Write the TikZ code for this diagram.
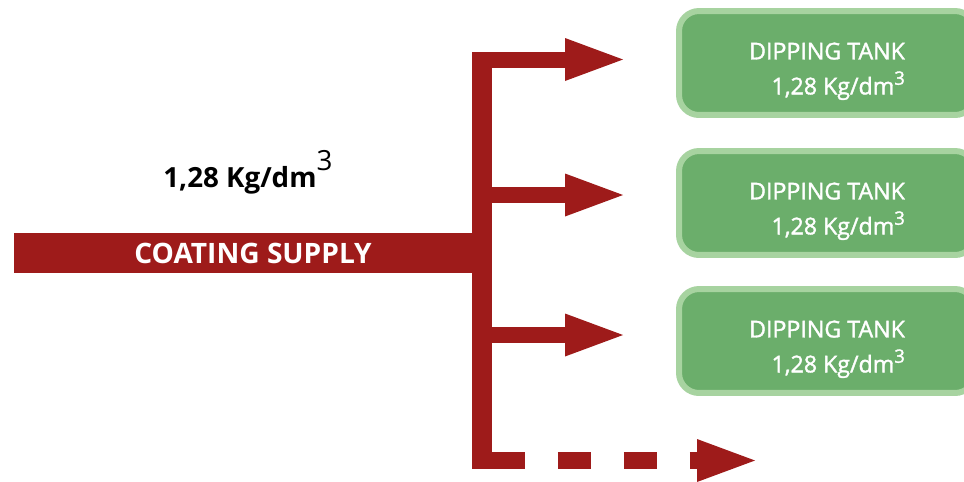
\documentclass[tikz,border=0pt]{standalone}
\usepackage{fontspec}
\setmainfont{Open Sans}
\newfontfamily\tankfont[FakeBold=1.5]{Open Sans}
\usetikzlibrary{arrows.meta}
\definecolor{pipered}{HTML}{9E1B1A}
\definecolor{tankgreen}{HTML}{6BAE6B}
\definecolor{tankrim}{HTML}{A7D3A0}
\begin{document}
\begin{tikzpicture}[x=0.02cm, y=-0.02cm, line join=miter,
		pipe/.style={draw=pipered, line width=0.32cm, line cap=butt},
		feed/.style={pipe, -{Triangle[length=1.16cm, width=0.86cm, line width=0pt]}},
		tank/.style={draw=tankrim, line width=0.12cm, fill=tankgreen, rounded corners=0.4cm,
			minimum width=5.92cm, minimum height=2.08cm, align=right, text=white,
			font=\tankfont\fontsize{13.2}{19.9}\selectfont}]
		\useasboundingbox (0,0) rectangle (964,481);
		\clip (0,0) rectangle (964,481);
		% Ống cấp chính
		\coordinate (bustop) at (482,52);
		\coordinate (busend) at (482,469);
		\draw[pipe, line width=0.4cm] (bustop) -- (busend);
		\node[fill=pipered, text=white, font=\fontsize{16}{16}\selectfont\bfseries,
			minimum width=9.56cm, minimum height=0.8cm, inner sep=0pt] (supply) at (253,253) {COATING SUPPLY};
		\node[anchor=base west, inner sep=0pt, font=\fontsize{15.8}{18}\selectfont\bfseries]
			(density) at (163,187) {1,28 Kg/dm\raisebox{9.5pt}{\mdseries 3}};
		% Bể nhúng
		\foreach \y/\t/\n in {63/59.5/1, 203/195/2, 341/335/3}{
			\node[tank] (tank\n) at (827,\y)
				{\rule{0pt}{19pt}DIPPING TANK\\1,28 Kg/dm\raisebox{5.5pt}{\fontsize{10.5}{10}\selectfont 3}};
			\coordinate (tap\n) at (482,\t);
			\coordinate (tip\n) at (623,\t);
			\draw[feed] (tap\n) -- (tip\n);
		}
		% Nhánh tiếp theo
		\coordinate (tapx) at (492,460.5);
		\coordinate (tipx) at (755,460.5);
		\draw[feed, line width=0.34cm, dash pattern=on 0.66cm off 0.66cm] (tapx) -- (tipx);
\end{tikzpicture}
\end{document}
